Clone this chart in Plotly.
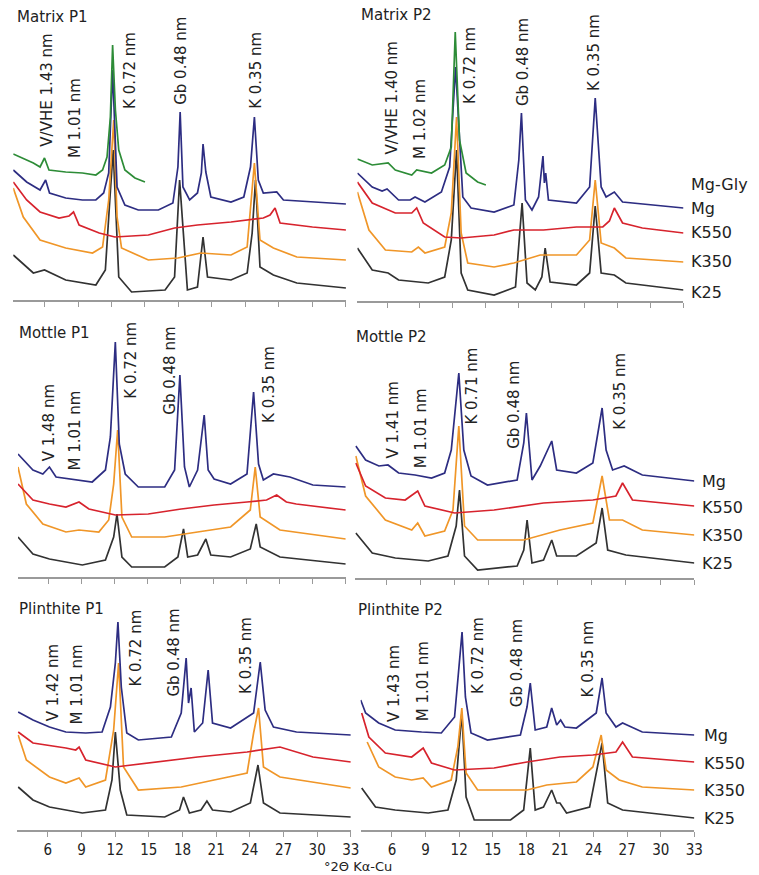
import plotly.graph_objects as go

FIG_W, FIG_H = 759, 875

# ------------------------------------------------------------------
# DATA (2theta in degrees, intensity in arbitrary stacked units)
# ------------------------------------------------------------------
tick_vals = [6, 9, 12, 15, 18, 21, 24, 27, 30, 33]
series_names = ["K25", "K350", "K550", "Mg", "Mg-Gly"]

# ---- Matrix P1 ----
matrix_p1_gly_x = [3.2, 5.0, 5.6, 6.0, 6.4, 7.9, 9.4, 10.6, 11.2, 11.6, 11.9, 12.1, 12.35, 12.65, 13.2, 14.1, 15.0]
matrix_p1_gly_y = [146, 137, 133, 142, 130, 128, 127, 125, 130, 143, 183, 255, 190, 150, 130, 122, 118]
matrix_p1_mg_x = [3.2, 4.4, 5.6, 6.1, 6.45, 7.9, 9.4, 10.6, 11.3, 11.75, 12.1, 12.5, 13.2, 14.4, 16.2, 17.5, 17.95, 18.15, 18.4, 19.0, 19.7, 20.05, 20.2, 20.45, 20.9, 22.7, 23.85, 24.45, 24.8, 25.15, 25.6, 26.8, 27.4, 30.0, 33.0]
matrix_p1_mg_y = [130, 118, 110, 120, 107, 102, 100, 100, 107, 127, 230, 113, 95, 90, 90, 97, 133, 188, 113, 100, 107, 127, 156, 128, 103, 98, 103, 133, 183, 120, 107, 108, 100, 98, 96]
matrix_p1_k550_x = [3.2, 4.4, 5.6, 7.3, 8.2, 8.6, 9.1, 10.9, 12.3, 15.3, 17.65, 19.7, 22.7, 25.6, 26.2, 26.65, 27.1, 30.0, 33.0]
matrix_p1_k550_y = [118, 100, 88, 82, 84, 88, 75, 67, 63, 65, 72, 75, 78, 82, 85, 92, 77, 73, 70]
matrix_p1_k350_x = [3.2, 4.1, 5.6, 7.9, 10.3, 11.2, 11.75, 12.2, 12.5, 12.9, 15.3, 17.95, 20.0, 22.7, 24.15, 24.8, 25.3, 26.5, 28.6, 33.0]
matrix_p1_k350_y = [112, 83, 60, 52, 47, 53, 100, 180, 83, 52, 40, 42, 47, 45, 53, 137, 60, 52, 43, 40]
matrix_p1_k25_x = [3.2, 5.0, 6.0, 7.9, 10.6, 11.45, 11.85, 12.15, 12.65, 13.8, 16.8, 17.65, 18.1, 18.8, 19.7, 20.2, 20.6, 22.7, 24.15, 24.6, 24.9, 25.3, 26.5, 28.6, 33.0]
matrix_p1_k25_y = [45, 27, 30, 20, 15, 30, 100, 150, 23, 8, 10, 23, 120, 10, 13, 63, 23, 20, 27, 67, 120, 33, 25, 17, 12]
matrix_p1_peak_text = ["V/VHE 1.43 nm", "M 1.01 nm", "K 0.72 nm", "Gb 0.48 nm", "K 0.35 nm"]
matrix_p1_peak_x = [6.15, 8.74, 13.61, 18.21, 24.88]
matrix_p1_peak_y = [152, 141, 190, 194, 190]

# ---- Matrix P2 ----
matrix_p2_gly_x = [3.3, 4.65, 6.1, 6.75, 8.25, 8.7, 10.05, 11.25, 11.85, 12.21, 12.6, 13.2, 14.25, 15.0]
matrix_p2_gly_y = [142, 136, 138, 131, 126, 131, 128, 136, 154, 269, 161, 128, 119, 116]
matrix_p2_mg_x = [3.3, 4.65, 5.55, 6.0, 7.05, 8.1, 8.55, 9.45, 10.95, 11.7, 12.24, 12.9, 13.65, 15.75, 17.55, 18.0, 18.24, 18.6, 19.2, 19.8, 20.2, 20.33, 20.45, 20.7, 23.25, 24.45, 24.96, 25.5, 25.95, 26.7, 27.45, 33.0]
matrix_p2_mg_y = [128, 114, 110, 112, 101, 101, 104, 99, 109, 134, 234, 104, 93, 89, 96, 141, 188, 101, 91, 104, 145, 118, 128, 101, 98, 114, 203, 114, 104, 109, 99, 93]
matrix_p2_k550_x = [3.3, 4.65, 6.75, 8.25, 8.7, 9.3, 11.25, 12.75, 15.75, 17.55, 20.25, 23.25, 25.65, 26.25, 26.7, 27.45, 29.25, 33.0]
matrix_p2_k550_y = [119, 98, 88, 88, 93, 78, 64, 63, 66, 71, 71, 74, 74, 80, 93, 78, 73, 68]
matrix_p2_k350_x = [3.3, 4.35, 5.85, 8.25, 8.85, 9.45, 11.25, 11.85, 12.33, 12.75, 13.35, 15.75, 17.55, 19.95, 23.25, 24.45, 24.96, 25.5, 26.7, 27.75, 33.0]
matrix_p2_k350_y = [109, 71, 51, 49, 54, 48, 54, 88, 184, 68, 38, 34, 38, 46, 46, 61, 121, 58, 53, 43, 39]
matrix_p2_k25_x = [3.3, 4.65, 6.1, 7.05, 9.75, 11.25, 11.85, 12.33, 12.75, 13.35, 15.75, 17.7, 18.3, 18.75, 19.5, 20.1, 20.4, 20.85, 23.25, 24.45, 24.96, 25.5, 26.7, 27.75, 33.0]
matrix_p2_k25_y = [53, 31, 28, 21, 18, 24, 61, 151, 28, 11, 6, 14, 98, 18, 11, 24, 53, 19, 16, 28, 95, 28, 26, 18, 11]
matrix_p2_peak_text = ["V/VHE 1.40 nm", "M 1.02 nm", "K 0.72 nm", "Gb 0.48 nm", "K 0.35 nm"]
matrix_p2_peak_x = [6.36, 9.0, 13.5, 18.39, 24.81]
matrix_p2_peak_y = [145, 141, 196, 194, 209]

# ---- Mottle P1 ----
mottle_p1_mg_x = [3.2, 4.56, 5.46, 6.06, 6.66, 8.16, 9.95, 11.15, 11.6, 12.05, 12.41, 12.95, 14.14, 16.54, 17.44, 17.92, 18.34, 18.78, 19.53, 20.13, 20.49, 21.03, 22.53, 24.02, 24.62, 25.07, 25.51, 26.42, 27.92, 30.01, 33.0]
mottle_p1_mg_y = [123, 107, 103, 110, 100, 98, 95, 107, 140, 235, 133, 103, 90, 90, 107, 202, 110, 90, 107, 162, 107, 98, 93, 103, 185, 113, 97, 103, 100, 92, 90]
mottle_p1_k550_x = [3.2, 4.56, 6.06, 7.56, 8.75, 9.65, 12.05, 15.04, 18.04, 21.03, 24.02, 25.8, 26.72, 27.6, 28.5, 33.0]
mottle_p1_k550_y = [93, 77, 73, 70, 75, 68, 62, 63, 68, 72, 75, 77, 82, 75, 73, 67]
mottle_p1_k350_x = [3.2, 3.96, 5.46, 7.56, 8.75, 10.55, 11.45, 11.9, 12.26, 12.65, 13.54, 16.54, 19.53, 22.53, 24.32, 24.77, 25.22, 27.02, 33.0]
mottle_p1_k350_y = [110, 73, 53, 45, 47, 45, 57, 93, 147, 60, 40, 40, 45, 50, 67, 110, 60, 47, 38]
mottle_p1_k25_x = [3.2, 4.56, 6.06, 9.05, 11.15, 11.9, 12.2, 12.65, 13.54, 16.54, 17.74, 18.25, 18.63, 19.53, 20.28, 20.73, 22.53, 24.32, 24.86, 25.22, 27.02, 33.0]
mottle_p1_k25_y = [40, 23, 18, 12, 17, 40, 63, 20, 10, 10, 20, 48, 20, 22, 38, 22, 20, 28, 53, 30, 20, 13]
mottle_p1_peak_text = ["V 1.48 nm", "M 1.01 nm", "K 0.72 nm", "Gb 0.48 nm", "K 0.35 nm"]
mottle_p1_peak_x = [6.0, 8.34, 13.4, 16.99, 25.97]
mottle_p1_peak_y = [115, 105, 177, 161, 153]

# ---- Mottle P2 ----
mottle_p2_mg_x = [3.35, 4.21, 5.37, 6.17, 7.1, 8.54, 9.98, 11.13, 11.71, 12.37, 12.81, 13.44, 14.88, 17.48, 18.06, 18.29, 18.78, 19.5, 20.51, 20.94, 22.67, 24.11, 24.92, 25.27, 25.84, 26.85, 28.44, 33.0]
mottle_p2_mg_y = [132, 118, 112, 113, 105, 103, 100, 105, 128, 205, 128, 102, 93, 98, 135, 165, 98, 112, 137, 108, 105, 115, 170, 128, 108, 112, 103, 97]
mottle_p2_k550_x = [3.35, 4.21, 5.94, 7.67, 8.77, 9.4, 12.0, 15.46, 19.79, 24.11, 26.13, 26.71, 27.58, 33.0]
mottle_p2_k550_y = [115, 92, 80, 78, 87, 72, 65, 68, 75, 78, 82, 95, 78, 72]
mottle_p2_k350_x = [3.35, 4.21, 5.94, 8.25, 8.77, 9.4, 11.13, 11.86, 12.37, 12.87, 14.02, 18.06, 21.23, 24.11, 24.92, 25.56, 26.71, 28.44, 33.0]
mottle_p2_k350_y = [122, 82, 58, 48, 55, 42, 47, 68, 152, 52, 38, 38, 48, 55, 102, 58, 58, 48, 43]
mottle_p2_k25_x = [3.35, 4.79, 6.81, 9.69, 11.42, 12.14, 12.43, 12.87, 14.02, 17.48, 18.06, 18.35, 18.78, 19.79, 20.51, 20.94, 22.67, 24.4, 24.92, 25.41, 27.0, 33.0]
mottle_p2_k25_y = [45, 25, 20, 17, 22, 52, 88, 22, 8, 12, 28, 58, 15, 18, 38, 22, 22, 35, 70, 28, 23, 15]
mottle_p2_peak_text = ["V 1.41 nm", "M 1.01 nm", "K 0.71 nm", "Gb 0.48 nm", "K 0.35 nm"]
mottle_p2_peak_x = [6.52, 9.09, 13.44, 17.19, 26.42]
mottle_p2_peak_y = [118, 109, 152, 128, 147]

# ---- Plinthite P1 ----
plinthite_p1_mg_x = [3.36, 4.68, 6.15, 7.61, 9.38, 10.84, 11.58, 12.02, 12.25, 12.55, 13.04, 14.07, 17.01, 17.89, 18.33, 18.54, 18.77, 19.06, 19.8, 20.29, 20.68, 22.29, 24.34, 24.93, 25.37, 26.11, 28.16, 33.0]
plinthite_p1_mg_y = [118, 110, 103, 98, 97, 98, 123, 167, 208, 143, 97, 90, 93, 117, 172, 127, 142, 98, 107, 160, 107, 102, 117, 168, 120, 103, 98, 95]
plinthite_p1_k550_x = [3.36, 4.68, 7.61, 8.49, 8.79, 9.38, 12.02, 14.95, 19.35, 23.76, 26.69, 29.63, 33.0]
plinthite_p1_k550_y = [98, 87, 82, 80, 83, 70, 63, 67, 73, 78, 83, 73, 68]
plinthite_p1_k350_x = [3.36, 4.09, 6.15, 7.61, 8.79, 9.38, 11.14, 11.87, 12.31, 12.75, 14.07, 17.89, 20.82, 23.76, 24.34, 24.78, 25.22, 26.69, 33.0]
plinthite_p1_k350_y = [95, 70, 53, 47, 52, 43, 50, 100, 167, 63, 40, 43, 50, 57, 97, 122, 63, 53, 42]
plinthite_p1_k25_x = [3.36, 4.68, 6.15, 9.08, 11.14, 11.72, 12.02, 12.46, 13.04, 16.42, 17.74, 18.09, 18.62, 19.65, 20.18, 20.68, 22.29, 24.05, 24.73, 25.22, 26.69, 33.0]
plinthite_p1_k25_y = [43, 30, 23, 17, 20, 50, 98, 40, 15, 13, 20, 33, 17, 20, 29, 20, 18, 27, 65, 27, 17, 13]
plinthite_p1_peak_text = ["V 1.42 nm", "M 1.01 nm", "K 0.72 nm", "Gb 0.48 nm", "K 0.35 nm"]
plinthite_p1_peak_x = [6.44, 8.64, 13.78, 17.21, 23.61]
plinthite_p1_peak_y = [108, 105, 142, 132, 135]

# ---- Plinthite P2 ----
plinthite_p2_mg_x = [3.21, 3.65, 4.82, 6.29, 8.65, 10.41, 11.59, 12.03, 12.26, 12.56, 13.06, 14.53, 17.47, 18.06, 18.35, 18.79, 19.82, 20.26, 20.71, 21.06, 21.44, 22.47, 24.24, 24.76, 25.12, 26.0, 26.59, 28.35, 33.0]
plinthite_p2_mg_y = [130, 117, 107, 100, 98, 97, 113, 167, 198, 133, 97, 90, 95, 123, 147, 100, 103, 122, 105, 110, 103, 102, 117, 152, 117, 103, 107, 98, 95]
plinthite_p2_k550_x = [3.3, 3.94, 5.41, 7.76, 8.79, 9.53, 11.59, 15.12, 18.06, 21.0, 23.94, 26.0, 26.59, 27.47, 33.0]
plinthite_p2_k550_y = [117, 93, 77, 73, 82, 67, 60, 62, 68, 73, 75, 78, 88, 73, 68]
plinthite_p2_k350_x = [3.79, 4.82, 6.29, 7.76, 8.79, 9.53, 11.29, 11.88, 12.24, 12.62, 13.65, 18.06, 19.82, 22.47, 23.94, 24.68, 25.12, 26.29, 28.35, 33.0]
plinthite_p2_k350_y = [88, 63, 53, 50, 52, 43, 50, 83, 122, 57, 40, 40, 45, 48, 63, 95, 60, 50, 43, 40]
plinthite_p2_k25_x = [3.3, 4.53, 6.29, 9.24, 11.0, 11.74, 12.24, 12.62, 13.35, 16.59, 17.76, 18.35, 18.79, 19.53, 20.26, 20.71, 21.0, 21.59, 23.65, 24.76, 25.26, 26.59, 33.0]
plinthite_p2_k25_y = [42, 23, 20, 17, 20, 50, 117, 33, 10, 10, 20, 82, 20, 23, 40, 27, 27, 17, 23, 87, 27, 20, 12]
plinthite_p2_peak_text = ["V 1.43 nm", "M 1.01 nm", "K 0.72 nm", "Gb 0.48 nm", "K 0.35 nm"]
plinthite_p2_peak_x = [6.15, 8.79, 13.65, 17.18, 23.5]
plinthite_p2_peak_y = [107, 108, 135, 122, 132]

# ------------------------------------------------------------------
# STYLE / LAYOUT
# ------------------------------------------------------------------
colors = {
    "Mg-Gly": "rgb(45,140,55)",
    "Mg": "rgb(45,45,130)",
    "K550": "rgb(215,35,45)",
    "K350": "rgb(240,150,40)",
    "K25": "rgb(50,50,50)",
}
FONT = "DejaVu Sans"
TXT = "#222222"

# panel geometry in pixels: x-pixel of range start / end, bottom & top pixel rows
panels = [
    dict(title="Matrix P1", title_px=(15, 17), x0=3.2, px0=13.4, px1=350.1, bottom=300, top=20,
         series={"K25": (matrix_p1_k25_x, matrix_p1_k25_y), "K350": (matrix_p1_k350_x, matrix_p1_k350_y),
                 "K550": (matrix_p1_k550_x, matrix_p1_k550_y), "Mg": (matrix_p1_mg_x, matrix_p1_mg_y),
                 "Mg-Gly": (matrix_p1_gly_x, matrix_p1_gly_y)},
         peaks=(matrix_p1_peak_text, matrix_p1_peak_x, matrix_p1_peak_y), bottom_row=False, side=None),
    dict(title="Matrix P2", title_px=(363, 15), x0=3.3, px0=361.7, px1=691.7, bottom=301, top=20,
         series={"K25": (matrix_p2_k25_x, matrix_p2_k25_y), "K350": (matrix_p2_k350_x, matrix_p2_k350_y),
                 "K550": (matrix_p2_k550_x, matrix_p2_k550_y), "Mg": (matrix_p2_mg_x, matrix_p2_mg_y),
                 "Mg-Gly": (matrix_p2_gly_x, matrix_p2_gly_y)},
         peaks=(matrix_p2_peak_text, matrix_p2_peak_x, matrix_p2_peak_y), bottom_row=False,
         side=(697, [("Mg-Gly", 185), ("Mg", 208), ("K550", 233), ("K350", 262), ("K25", 292)])),
    dict(title="Mottle P1", title_px=(17, 333), x0=3.2, px0=18.2, px1=349.9, bottom=577, top=318,
         series={"K25": (mottle_p1_k25_x, mottle_p1_k25_y), "K350": (mottle_p1_k350_x, mottle_p1_k350_y),
                 "K550": (mottle_p1_k550_x, mottle_p1_k550_y), "Mg": (mottle_p1_mg_x, mottle_p1_mg_y)},
         peaks=(mottle_p1_peak_text, mottle_p1_peak_x, mottle_p1_peak_y), bottom_row=False, side=None),
    dict(title="Mottle P2", title_px=(358, 337), x0=3.3, px0=359.5, px1=702.7, bottom=578, top=318,
         series={"K25": (mottle_p2_k25_x, mottle_p2_k25_y), "K350": (mottle_p2_k350_x, mottle_p2_k350_y),
                 "K550": (mottle_p2_k550_x, mottle_p2_k550_y), "Mg": (mottle_p2_mg_x, mottle_p2_mg_y)},
         peaks=(mottle_p2_peak_text, mottle_p2_peak_x, mottle_p2_peak_y), bottom_row=False,
         side=(708, [("Mg", 482), ("K550", 508), ("K350", 535), ("K25", 563)])),
    dict(title="Plinthite P1", title_px=(17, 609), x0=3.3, px0=17.7, px1=355.0, bottom=830, top=595,
         series={"K25": (plinthite_p1_k25_x, plinthite_p1_k25_y), "K350": (plinthite_p1_k350_x, plinthite_p1_k350_y),
                 "K550": (plinthite_p1_k550_x, plinthite_p1_k550_y), "Mg": (plinthite_p1_mg_x, plinthite_p1_mg_y)},
         peaks=(plinthite_p1_peak_text, plinthite_p1_peak_x, plinthite_p1_peak_y), bottom_row=True, side=None),
    dict(title="Plinthite P2", title_px=(360, 610), x0=3.2, px0=364.9, px1=702.7, bottom=830, top=595,
         series={"K25": (plinthite_p2_k25_x, plinthite_p2_k25_y), "K350": (plinthite_p2_k350_x, plinthite_p2_k350_y),
                 "K550": (plinthite_p2_k550_x, plinthite_p2_k550_y), "Mg": (plinthite_p2_mg_x, plinthite_p2_mg_y)},
         peaks=(plinthite_p2_peak_text, plinthite_p2_peak_x, plinthite_p2_peak_y), bottom_row=True,
         side=(710, [("Mg", 735), ("K550", 763), ("K350", 790), ("K25", 818)])),
]

fig = go.Figure()
layout = dict(
    width=FIG_W, height=FIG_H, margin=dict(l=0, r=0, t=0, b=0),
    paper_bgcolor="white", plot_bgcolor="white", showlegend=False,
)
annotations = []


def px_x(p):
    return p / FIG_W


def px_y(p):
    return 1 - p / FIG_H


for i, pnl in enumerate(panels, start=1):
    suf = "" if i == 1 else str(i)
    xref, yref = "x" + suf, "y" + suf
    for name in series_names:
        if name not in pnl["series"]:
            continue
        xs, ys = pnl["series"][name]
        fig.add_trace(go.Scatter(x=xs, y=ys, mode="lines", xaxis=xref, yaxis=yref,
                                 line=dict(color=colors[name], width=1.7), hoverinfo="skip", name=name))
    height = pnl["bottom"] - pnl["top"]
    layout["xaxis" + suf] = dict(
        domain=[px_x(pnl["px0"]), px_x(pnl["px1"])], range=[pnl["x0"], 33], anchor=yref,
        showline=True, linecolor="#9a9a9a", linewidth=1.6, ticks="outside", ticklen=5,
        tickwidth=1.3, tickcolor="#9a9a9a", tickvals=tick_vals,
        showticklabels=pnl["bottom_row"], showgrid=False, zeroline=False,
        tickfont=dict(family="DejaVu Sans Condensed", size=15, color=TXT),
    )
    layout["yaxis" + suf] = dict(
        domain=[px_y(pnl["bottom"]), px_y(pnl["top"])], range=[0, height], anchor=xref,
        visible=False, showgrid=False, zeroline=False,
    )
    # panel title
    tx, ty = pnl["title_px"]
    annotations.append(dict(text=pnl["title"], x=px_x(tx), y=px_y(ty), xref="paper", yref="paper",
                            xanchor="left", yanchor="middle", showarrow=False,
                            font=dict(family=FONT, size=15, color=TXT)))
    # peak labels
    texts, pxs, pys = pnl["peaks"]
    for t, x, y in zip(texts, pxs, pys):
        annotations.append(dict(text=t, x=x, y=y, xref=xref, yref=yref, textangle=-90,
                                xanchor="center", yanchor="bottom", showarrow=False, borderpad=0,
                                font=dict(family=FONT, size=15, color=TXT)))
    # series labels at right
    if pnl["side"]:
        sx, items = pnl["side"]
        for lab, sy in items:
            annotations.append(dict(text=lab, x=px_x(sx), y=px_y(sy), xref="paper", yref="paper",
                                    xanchor="left", yanchor="middle", showarrow=False,
                                    font=dict(family=FONT, size=16, color=TXT)))

annotations.append(dict(text="°2Θ Kα-Cu", x=px_x(362), y=px_y(866), xref="paper", yref="paper",
                        xanchor="center", yanchor="middle", showarrow=False,
                        font=dict(family=FONT, size=13, color=TXT)))

layout["annotations"] = annotations
fig.update_layout(**layout)
fig.write_html("out.html")
